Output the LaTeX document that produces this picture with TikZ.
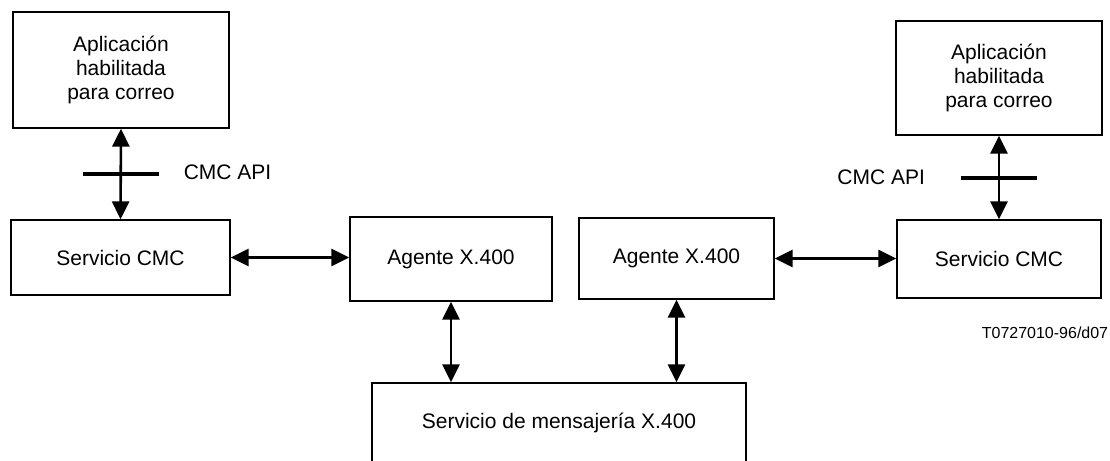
\documentclass[tikz,border=0pt]{standalone}
\usepackage{fontspec}
\setmainfont{Liberation Sans}
\usetikzlibrary{positioning, arrows.meta, calc}
\tikzset{
  block/.style={
    draw,
    rectangle,
    line width=0.65pt,
    align=center,
    inner sep=0pt,
    font=\fontsize{10.5}{12}\selectfont
  },
  link/.style={
    line width=1.3pt,
    {Triangle[length=9pt,width=8.5pt]}-{Triangle[length=9pt,width=8.5pt]}
  },
  apibar/.style={
    line width=2pt
  }
}
\begin{document}
\begin{tikzpicture}[x=0.5pt, y=-0.5pt]
    \useasboundingbox (0,0) rectangle (1110,461);
    \node[block, minimum width=108pt, minimum height=58pt] (appL) at (121,70) {Aplicación\\habilitada\\para correo};
    \node[block, minimum width=109.5pt, minimum height=37.5pt] (svcL) at (120.5,257.5) {Servicio CMC};
    \node[block, minimum width=101pt, minimum height=42pt] (agL) at (451,259) {Agente X.400};
    \node[block, minimum width=97.5pt, minimum height=40.5pt] (agR) at (676.5,258.5) {Agente X.400};
    \node[block, minimum width=102pt, minimum height=39pt] (svcR) at (999,259) {Servicio CMC};
    \node[block, minimum width=103pt, minimum height=57pt] (appR) at (999,78) {Aplicación\\habilitada\\para correo};
    \node[block, minimum width=187pt, minimum height=40pt] (msg) at (559,423) {Servicio de mensajería X.400};
    
    \draw[link] (appL.south) -- (svcL.north);
    \draw[link] (appR.south) -- (svcR.north);
    \draw[link] (svcL.east) -- (svcL.east -| agL.west);
    \draw[link] (agR.east) -- (agR.east -| svcR.west);
    \draw[link] (agL.south) -- (agL.south |- msg.north);
    \draw[link] (agR.south) -- (agR.south |- msg.north);
    
    \coordinate (apiL) at ($(appL.south)!0.5!(svcL.north)$);
    \coordinate (apiR) at ($(appR.south)!0.5!(svcR.north)$);
    \draw[apibar] ($(apiL)+(-38,0)$) -- ($(apiL)+(38,0)$);
    \draw[apibar] ($(apiR)+(-38,0)$) -- ($(apiR)+(38,0)$);
    \node[font=\fontsize{10.5}{12}\selectfont, anchor=west] (lblL) at ($(apiL)+(56,-2)$) {CMC API};
    \node[font=\fontsize{10.5}{12}\selectfont, anchor=east] (lblR) at ($(apiR)+(-67,0)$) {CMC API};
    
    \node[font=\fontsize{8}{9}\selectfont] (fig) at (1045,333) {T0727010-96/d07};
\end{tikzpicture}
\end{document}
